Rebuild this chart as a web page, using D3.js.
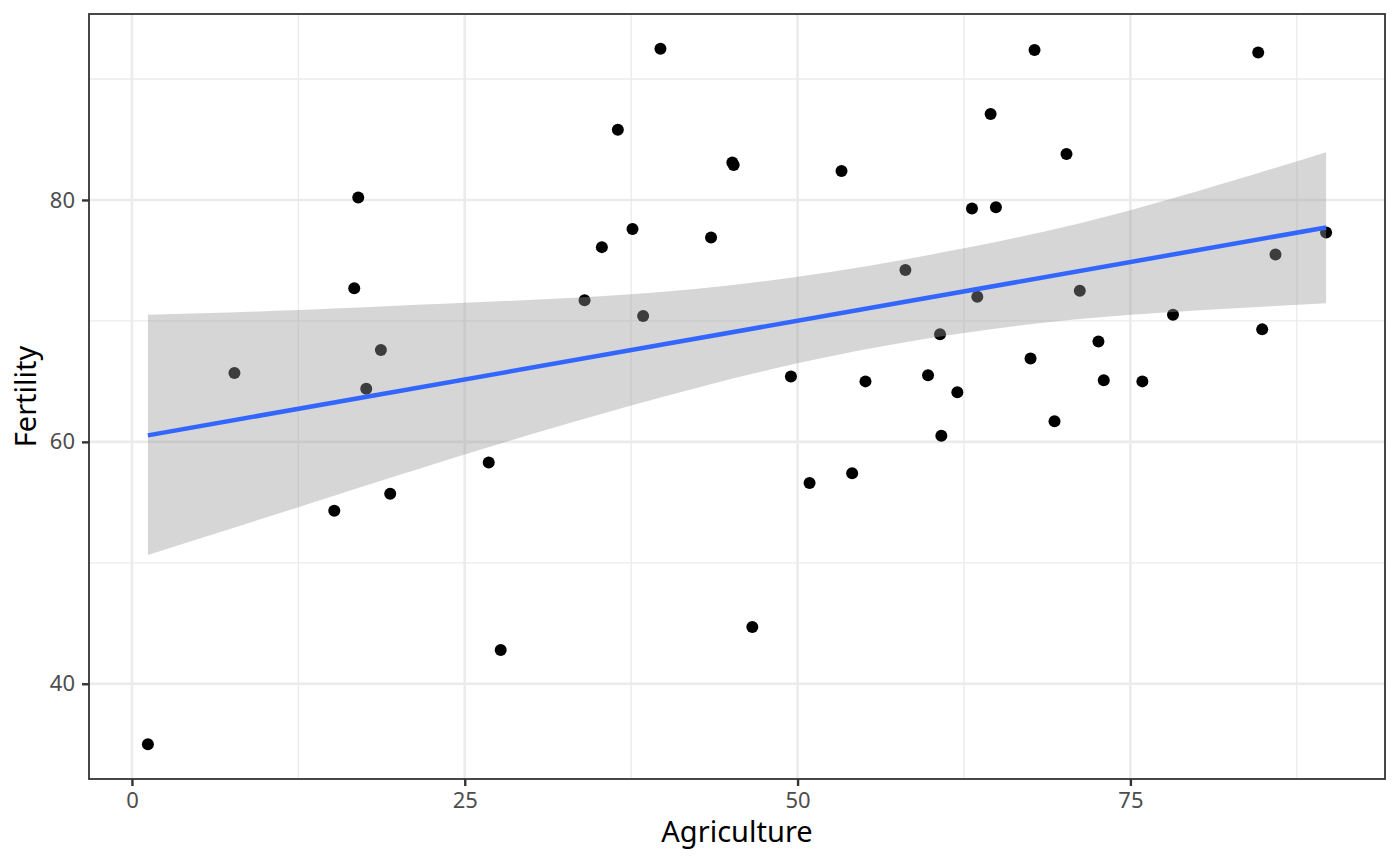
<!DOCTYPE html>
<html>
<head>
<meta charset="utf-8">
<script src="https://cdn.jsdelivr.net/npm/d3@7"></script>
<style>
  body { margin: 0; background: #fff; }
  text { font-family: "Noto Sans", sans-serif; }
</style>
</head>
<body>
<div id="chart"></div>
<script>
// swiss data: Agriculture (x) and Fertility (y), one entry per province
const agriculture = [17.0, 45.1, 39.7, 36.5, 43.5, 35.3, 70.2, 67.8, 53.3, 45.2, 64.5, 62.0, 67.5, 60.7, 69.3, 72.6, 34.0, 19.4, 15.2, 73.0, 59.8, 55.1, 50.9, 54.1, 71.2, 58.1, 63.5, 60.8, 26.8, 49.5, 85.9, 84.9, 89.7, 78.2, 64.9, 75.9, 84.6, 63.1, 38.4, 7.7, 16.7, 17.6, 37.6, 18.7, 1.2, 46.6, 27.7]
const fertility = [80.2, 83.1, 92.5, 85.8, 76.9, 76.1, 83.8, 92.4, 82.4, 82.9, 87.1, 64.1, 66.9, 68.9, 61.7, 68.3, 71.7, 55.7, 54.3, 65.1, 65.5, 65.0, 56.6, 57.4, 72.5, 74.2, 72.0, 60.5, 58.3, 65.4, 75.5, 69.3, 77.3, 70.5, 79.4, 65.0, 92.2, 79.3, 70.4, 65.7, 72.7, 64.4, 77.6, 67.6, 35.0, 44.7, 42.8]
// confidence band edges
const bandX = [1.2, 12.5, 25, 37.5, 50, 62.5, 75, 89.7]
const bandUpper = [70.5, 70.9, 71.5, 72.2, 73.65, 76.0, 79.15, 83.95]
const bandLower = [50.65, 54.6, 58.95, 63.0, 66.5, 69.0, 70.5, 71.45]
const xTicks = [0, 25, 50, 75]
const xMinor = [12.5, 37.5, 62.5, 87.5]
const yTicks = [40, 60, 80]
const yMinor = [50, 70, 90]

const width = 1400, height = 865
const panel = { left: 89, right: 1385, top: 14, bottom: 779 }

const data = agriculture.map((a, i) => ({ x: a, y: fertility[i] }))
const band = bandX.map((x, i) => ({ x, lo: bandLower[i], hi: bandUpper[i] }))

// least squares line
const xbar = d3.mean(data, d => d.x)
const ybar = d3.mean(data, d => d.y)
const slope = d3.sum(data, d => (d.x - xbar) * (d.y - ybar)) / d3.sum(data, d => (d.x - xbar) ** 2)
const intercept = ybar - slope * xbar
const fitLine = d3.extent(data, d => d.x).map(x => ({ x, y: intercept + slope * x }))

const xScale = d3.scaleLinear([-3.225, 94.125], [panel.left, panel.right])
const yScale = d3.scaleLinear([32.125, 95.375], [panel.bottom, panel.top])

const svg = d3.select('#chart').append('svg')
  .attr('width', width)
  .attr('height', height)

const g = svg.append('g')

// grid
g.selectAll('.xminor').data(xMinor).enter().append('line')
  .attr('x1', d => xScale(d)).attr('x2', d => xScale(d))
  .attr('y1', panel.top).attr('y2', panel.bottom)
  .attr('stroke', '#ebebeb').attr('stroke-width', 1.3)
g.selectAll('.yminor').data(yMinor).enter().append('line')
  .attr('y1', d => yScale(d)).attr('y2', d => yScale(d))
  .attr('x1', panel.left).attr('x2', panel.right)
  .attr('stroke', '#ebebeb').attr('stroke-width', 1.3)
g.selectAll('.xmajor').data(xTicks).enter().append('line')
  .attr('x1', d => xScale(d)).attr('x2', d => xScale(d))
  .attr('y1', panel.top).attr('y2', panel.bottom)
  .attr('stroke', '#ebebeb').attr('stroke-width', 2.6)
g.selectAll('.ymajor').data(yTicks).enter().append('line')
  .attr('y1', d => yScale(d)).attr('y2', d => yScale(d))
  .attr('x1', panel.left).attr('x2', panel.right)
  .attr('stroke', '#ebebeb').attr('stroke-width', 2.6)

// points
g.selectAll('circle').data(data).enter().append('circle')
  .attr('cx', d => xScale(d.x))
  .attr('cy', d => yScale(d.y))
  .attr('r', 6)
  .attr('fill', 'black')

// smooth ribbon + line
g.append('path').datum(band)
  .attr('d', d3.area().curve(d3.curveNatural)
    .x(d => xScale(d.x)).y0(d => yScale(d.lo)).y1(d => yScale(d.hi)))
  .attr('fill', '#999999').attr('fill-opacity', 0.4)
g.append('path').datum(fitLine)
  .attr('d', d3.line().x(d => xScale(d.x)).y(d => yScale(d.y)))
  .attr('fill', 'none').attr('stroke', '#3366FF').attr('stroke-width', 4.5)

// panel border
g.append('rect')
  .attr('x', panel.left).attr('y', panel.top)
  .attr('width', panel.right - panel.left).attr('height', panel.bottom - panel.top)
  .attr('fill', 'none').attr('stroke', '#333333').attr('stroke-width', 1.8)

// axes
const xAxis = g.append('g').attr('transform', `translate(0,${panel.bottom})`)
  .call(d3.axisBottom(xScale).tickValues(xTicks).tickSize(7).tickPadding(6))
const yAxis = g.append('g').attr('transform', `translate(${panel.left},0)`)
  .call(d3.axisLeft(yScale).tickValues(yTicks).tickSize(7).tickPadding(7))
;[xAxis, yAxis].forEach(ax => {
  ax.select('.domain').remove()
  ax.selectAll('line').attr('stroke', '#333333').attr('stroke-width', 2.4)
  ax.selectAll('text').attr('fill', '#4d4d4d').style('font-size', '22px')
    .style('font-family', '"Noto Sans", sans-serif')
})

// titles
svg.append('text')
  .attr('x', (panel.left + panel.right) / 2).attr('y', 842)
  .attr('text-anchor', 'middle').style('font-size', '29px').attr('fill', 'black')
  .text('Agriculture')
svg.append('text')
  .attr('transform', `translate(36,${(panel.top + panel.bottom) / 2}) rotate(-90)`)
  .attr('text-anchor', 'middle').style('font-size', '29px').attr('fill', 'black')
  .text('Fertility')
</script>
</body>
</html>
